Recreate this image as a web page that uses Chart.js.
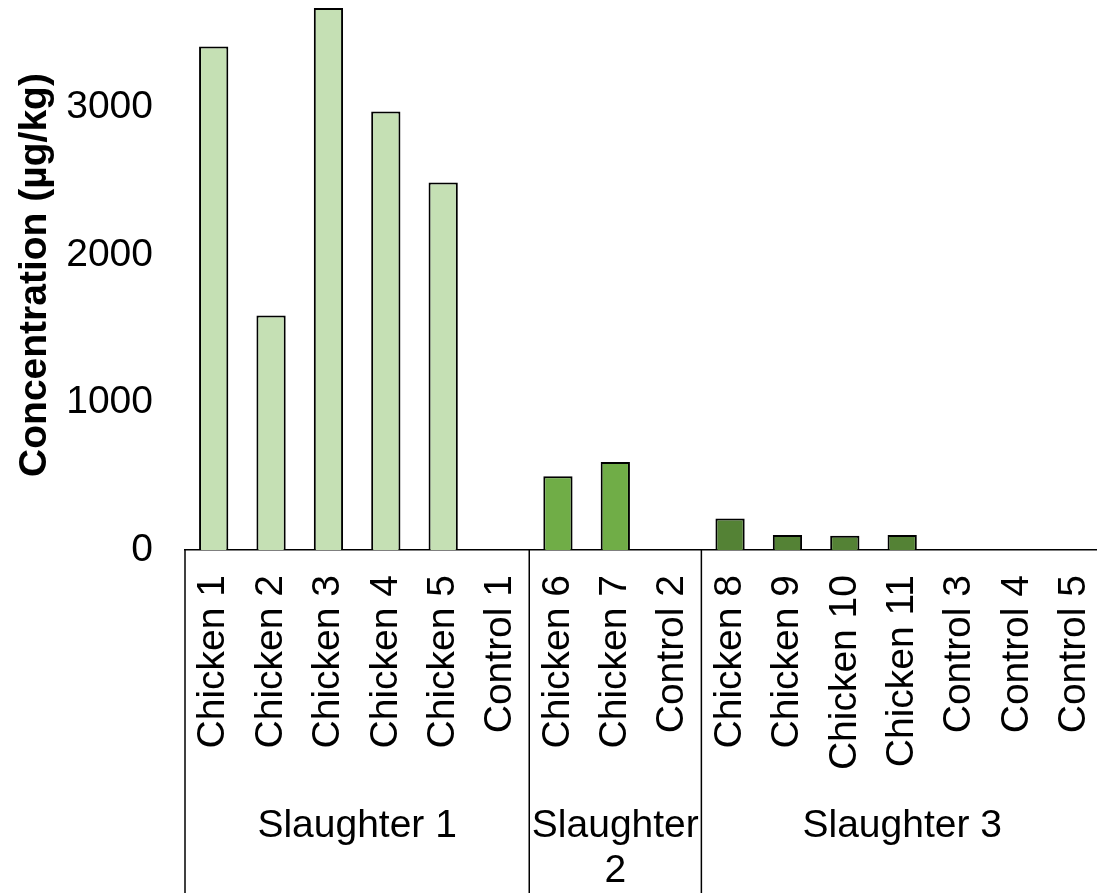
<!DOCTYPE html>
<html lang="en">
<head>
  <meta charset="UTF-8">
  <title>Concentration by slaughter</title>
  <script src="https://cdn.jsdelivr.net/npm/chart.js"></script>
  <style>
    html, body { margin: 0; padding: 0; background: #fff; overflow: hidden; }
    canvas { display: block; }
  </style>
</head>
<body>
  <canvas id="chart" width="1103" height="893"></canvas>
  <script>
    // sample labels, grouped by slaughter
    const categories = ['Chicken 1', 'Chicken 2', 'Chicken 3', 'Chicken 4', 'Chicken 5', 'Control 1',
                        'Chicken 6', 'Chicken 7', 'Control 2',
                        'Chicken 8', 'Chicken 9', 'Chicken 10', 'Chicken 11', 'Control 3', 'Control 4', 'Control 5'];
    const concentration = [3415, 1590, 3675, 2974, 2493, 0,
                           501, 596, 0,
                           213, 101, 96, 101, 0, 0, 0];
    const groups = ['Slaughter 1', 'Slaughter 2', 'Slaughter 3'];
    const groupSizes = [6, 3, 7];
    const groupColors = ['#c5e0b4', '#70ad47', '#548235'];
    const yTicks = [0, 1000, 2000, 3000];

    const FONT = "'Liberation Sans', Arial, sans-serif";

    const barColors = [];
    groupSizes.forEach((n, g) => { for (let i = 0; i < n; i++) barColors.push(groupColors[g]); });

    // draws the group separators and group names under the tick labels
    const groupAxis = {
      id: 'groupAxis',
      afterDraw(chart) {
        const ctx = chart.ctx;
        const x = chart.scales.x;
        const step = x.getPixelForValue(1) - x.getPixelForValue(0);
        const top = chart.chartArea.bottom;
        const bottom = chart.height;
        ctx.save();
        ctx.strokeStyle = '#000';
        ctx.lineWidth = 1.5;
        ctx.fillStyle = '#000';
        ctx.font = '39px ' + FONT;
        ctx.textAlign = 'center';
        ctx.textBaseline = 'alphabetic';
        let start = 0;
        groupSizes.forEach((n, g) => {
          const left = x.getPixelForValue(start) - step / 2;
          const right = x.getPixelForValue(start + n - 1) + step / 2;
          ctx.beginPath();
          ctx.moveTo(left, top);
          ctx.lineTo(left, bottom);
          ctx.stroke();
          // wrap the name when it does not fit its group
          let lines = [groups[g]];
          if (ctx.measureText(groups[g]).width > right - left - 4) {
            lines = groups[g].split(' ');
          }
          const cx = (left + right) / 2;
          lines.forEach((t, i) => ctx.fillText(t, cx, 837 + i * 45));
          start += n;
        });
        ctx.restore();
      }
    };

    new Chart(document.getElementById('chart'), {
      type: 'bar',
      data: {
        labels: categories,
        datasets: [{
          data: concentration,
          backgroundColor: barColors,
          borderColor: '#000',
          borderWidth: 2,
          barPercentage: 0.51,
          categoryPercentage: 1
        }]
      },
      options: {
        responsive: false,
        animation: false,
        devicePixelRatio: 1,
        layout: { padding: 0 },
        plugins: { legend: { display: false }, tooltip: { enabled: false } },
        scales: {
          x: {
            grid: { display: false },
            border: { display: true, color: '#000', width: 1.5 },
            ticks: {
              color: '#000',
              font: { family: FONT, size: 39 },
              minRotation: 90,
              maxRotation: 90,
              padding: 17,
              autoSkip: false
            },
            afterFit(s) { s.height = 343; s.paddingLeft = 0; s.paddingRight = 0; }
          },
          y: {
            min: 0,
            max: 3730,
            grid: { display: false },
            border: { display: false },
            afterBuildTicks(s) { s.ticks = yTicks.map(v => ({ value: v })); },
            ticks: {
              color: '#000',
              font: { family: FONT, size: 39 },
              padding: 24,
              callback: v => String(v)
            },
            title: {
              display: true,
              text: 'Concentration (µg/kg)',
              color: '#000',
              font: { family: FONT, size: 39, weight: 'bold', lineHeight: 1.2 },
              padding: { top: 12, bottom: 0 }
            },
            afterFit(s) { s.width = 185; s.paddingTop = 0; s.paddingBottom = 0; }
          }
        }
      },
      plugins: [groupAxis]
    });
  </script>
</body>
</html>
